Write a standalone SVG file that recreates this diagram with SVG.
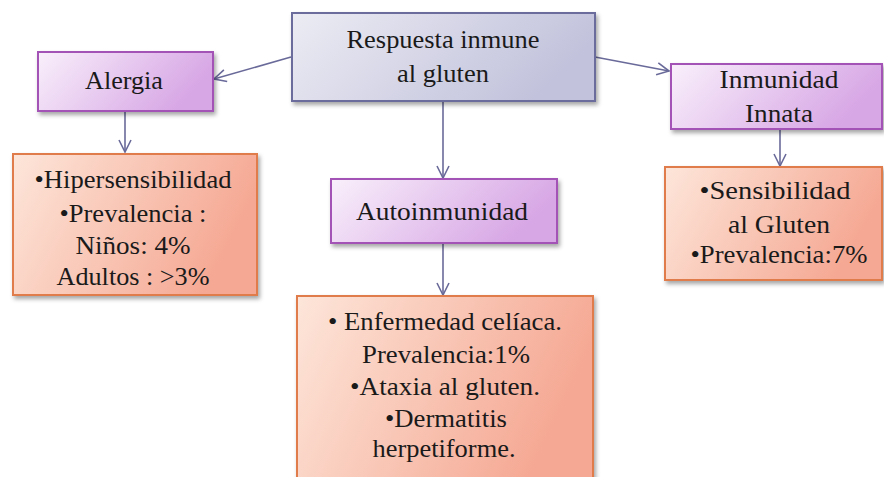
<svg xmlns="http://www.w3.org/2000/svg" width="884" height="477" viewBox="0 0 884 477">
<defs>
<linearGradient id="gTop" x1="0" y1="0" x2="1" y2="0.3"><stop offset="0" stop-color="#ececf4"/><stop offset="1" stop-color="#c2c2dc"/></linearGradient>
<linearGradient id="gPur" x1="0" y1="0" x2="1" y2="0.3"><stop offset="0" stop-color="#f9f0fb"/><stop offset="1" stop-color="#d7a6e5"/></linearGradient>
<linearGradient id="gOra" x1="0" y1="0" x2="1" y2="0.3"><stop offset="0" stop-color="#fde6da"/><stop offset="1" stop-color="#f5a893"/></linearGradient>
<filter id="sh" x="-10%" y="-10%" width="130%" height="140%"><feDropShadow dx="2" dy="3" stdDeviation="2" flood-color="#000" flood-opacity="0.35"/></filter>
<marker id="arr" viewBox="0 0 14 14" refX="13" refY="7" markerWidth="14" markerHeight="14" markerUnits="userSpaceOnUse" orient="auto"><path d="M1,1 L13,7 L1,13" fill="none" stroke="#6a6a9a" stroke-width="1.6"/></marker>
</defs>
<style>
text{font-family:'Liberation Serif',serif !important;font-size:25.5px;fill:#1a1a1a;text-anchor:middle}
.top{fill:url(#gTop);stroke:#6c6c9c;stroke-width:2;filter:url(#sh)}
.pur{fill:url(#gPur);stroke:#a352b6;stroke-width:2;filter:url(#sh)}
.ora{fill:url(#gOra);stroke:#e07b4c;stroke-width:2;filter:url(#sh)}
.c{fill:none;stroke:#6a6a9a;stroke-width:1.6;marker-end:url(#arr)}
</style>
<rect width="884" height="477" fill="#fff"/>
<g id="connectors">
<line class="c" x1="291" y1="57" x2="214" y2="79"/>
<line class="c" x1="595" y1="57" x2="669" y2="71"/>
<line class="c" x1="125" y1="111" x2="125" y2="152"/>
<line class="c" x1="443" y1="101" x2="443" y2="178"/>
<line class="c" x1="443" y1="243" x2="443" y2="295"/>
<line class="c" x1="780" y1="129" x2="780" y2="166"/>
</g>
<g id="root">
<rect class="top" x="292" y="13" width="303" height="88"/>
<text font-family="Liberation Serif" x="443" y="48" textLength="193" lengthAdjust="spacingAndGlyphs">Respuesta inmune</text>
<text font-family="Liberation Serif" x="443" y="82" textLength="92" lengthAdjust="spacingAndGlyphs">al gluten</text>
</g>
<g id="alergia">
<rect class="pur" x="38" y="52" width="175" height="59"/>
<text font-family="Liberation Serif" x="124" y="89" textLength="78" lengthAdjust="spacingAndGlyphs">Alergia</text>
</g>
<g id="alergia-info">
<rect class="ora" x="13" y="154" width="244" height="141"/>
<text font-family="Liberation Serif" x="133" y="188" textLength="197" lengthAdjust="spacingAndGlyphs">&#8226;Hipersensibilidad</text>
<text font-family="Liberation Serif" x="133" y="222" textLength="147" lengthAdjust="spacingAndGlyphs">&#8226;Prevalencia :</text>
<text font-family="Liberation Serif" x="133" y="254" textLength="115" lengthAdjust="spacingAndGlyphs">Ni&#241;os: 4%</text>
<text font-family="Liberation Serif" x="133" y="285" textLength="153" lengthAdjust="spacingAndGlyphs">Adultos : &gt;3%</text>
</g>
<g id="autoinmunidad">
<rect class="pur" x="331" y="179" width="226" height="64"/>
<text font-family="Liberation Serif" x="442" y="220" textLength="172" lengthAdjust="spacingAndGlyphs">Autoinmunidad</text>
</g>
<g id="autoinmunidad-info">
<rect class="ora" x="297" y="296" width="296" height="185"/>
<text font-family="Liberation Serif" x="445" y="330" textLength="234" lengthAdjust="spacingAndGlyphs">&#8226; Enfermedad cel&#237;aca.</text>
<text font-family="Liberation Serif" x="446" y="363" textLength="168" lengthAdjust="spacingAndGlyphs">Prevalencia:1%</text>
<text font-family="Liberation Serif" x="445" y="395" textLength="190" lengthAdjust="spacingAndGlyphs">&#8226;Ataxia al gluten.</text>
<text font-family="Liberation Serif" x="446" y="427" textLength="122" lengthAdjust="spacingAndGlyphs">&#8226;Dermatitis</text>
<text font-family="Liberation Serif" x="444" y="457" textLength="143" lengthAdjust="spacingAndGlyphs">herpetiforme.</text>
</g>
<g id="innata">
<rect class="pur" x="671" y="64" width="211" height="65"/>
<text font-family="Liberation Serif" x="779" y="88" textLength="119" lengthAdjust="spacingAndGlyphs">Inmunidad</text>
<text font-family="Liberation Serif" x="779" y="122" textLength="68" lengthAdjust="spacingAndGlyphs">Innata</text>
</g>
<g id="innata-info">
<rect class="ora" x="665" y="167" width="217" height="113"/>
<text font-family="Liberation Serif" x="775" y="199" textLength="151" lengthAdjust="spacingAndGlyphs">&#8226;Sensibilidad</text>
<text font-family="Liberation Serif" x="779" y="233" textLength="102" lengthAdjust="spacingAndGlyphs">al Gluten</text>
<text font-family="Liberation Serif" x="779" y="263" textLength="177" lengthAdjust="spacingAndGlyphs">&#8226;Prevalencia:7%</text>
</g>
</svg>
